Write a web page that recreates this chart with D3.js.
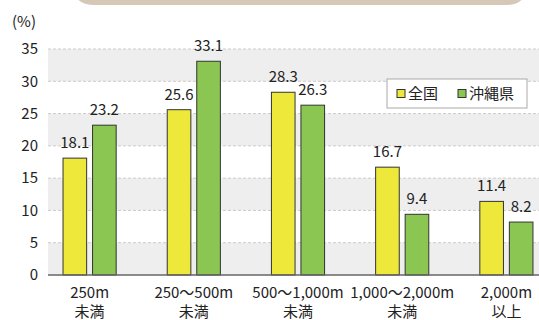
<!DOCTYPE html>
<html><head><meta charset="utf-8">
<script src="https://cdn.jsdelivr.net/npm/d3@7"></script>
<style>
html,body{margin:0;padding:0;background:#fff;}
svg{display:block;font-family:"Noto Sans CJK JP","Noto Sans",sans-serif;}
</style></head>
<body>
<svg id="c" width="539" height="320"></svg>
<script>
const categories = [["250m","未満"],["250〜500m","未満"],["500〜1,000m","未満"],["1,000〜2,000m","未満"],["2,000m","以上"]];
const seriesNames = ["全国","沖縄県"];
const national = [18.1, 25.6, 28.3, 16.7, 11.4];
const okinawa = [23.2, 33.1, 26.3, 9.4, 8.2];
const yTicks = [0,5,10,15,20,25,30,35];
const colors = ["#ede83a","#8bc653"];

const svg = d3.select("#c");
const plotLeft = 48, plotRight = 539, plotTop = 49, plotBottom = 275;
const FS = 15;

// decorative header shape
svg.append("path")
  .attr("d", "M75,-10 L525,-10 Q525,5 505,5 L95,5 Q75,5 75,-10 Z")
  .attr("fill", "#d6c8b6");

const y = d3.scaleLinear().domain([0,35]).range([plotBottom, plotTop]);
const idx = categories.map((d,i)=>i);
const x = d3.scaleBand().domain(idx).range([37.5, 558.5]).paddingInner(0.49).paddingOuter(0.245);
const xs = d3.scaleBand().domain([0,1]).range([0, x.bandwidth()]).paddingInner(0.2).paddingOuter(0);

// bands
const bands = [[0,5],[10,15],[20,25],[30,35]];
svg.append("g").selectAll("rect").data(bands).join("rect")
  .attr("x", plotLeft).attr("width", plotRight-plotLeft)
  .attr("y", d=>y(d[1])).attr("height", d=>y(d[0])-y(d[1]))
  .attr("fill", "#eeeeee");

// grid
svg.append("g").selectAll("line").data(yTicks.filter(t=>t>0)).join("line")
  .attr("x1", plotLeft).attr("x2", plotRight)
  .attr("y1", d=>y(d)).attr("y2", d=>y(d))
  .attr("stroke", "#cccccc").attr("stroke-width", 1).attr("stroke-dasharray","3,2");

// y axis
const yAxis = d3.axisLeft(y).tickValues(yTicks).tickSize(0).tickPadding(10);
const ya = svg.append("g").attr("transform", `translate(${plotLeft},0)`).call(yAxis);
ya.select(".domain").remove();
ya.selectAll("text").attr("font-size", FS).attr("fill", "#222").attr("font-family", '"Noto Sans CJK JP","Noto Sans",sans-serif');

svg.append("text").attr("x", 12).attr("y", 27).attr("font-size", FS).attr("fill","#222").text("(%)");

// bars
const data = [national, okinawa];
const g = svg.append("g");
data.forEach((vals, s) => {
  g.selectAll(null).data(vals).join("rect")
    .attr("x", (d,i)=>x(i)+xs(s))
    .attr("width", xs.bandwidth())
    .attr("y", d=>y(d))
    .attr("height", d=>y(0)-y(d))
    .attr("fill", colors[s]).attr("stroke", "#333").attr("stroke-width", 1);
  g.selectAll(null).data(vals).join("text")
    .attr("x", (d,i)=>x(i)+xs(s)+xs.bandwidth()/2)
    .attr("y", d=>y(d)-10)
    .attr("text-anchor","middle").attr("font-size", FS).attr("fill","#222")
    .text(d=>d.toFixed(1));
});

// baseline
svg.append("line").attr("x1", plotLeft).attr("x2", plotRight).attr("y1", y(0)).attr("y2", y(0))
  .attr("stroke", "#666").attr("stroke-width", 1.5);

// x labels
const xl = svg.append("g");
categories.forEach((c,i)=>{
  const cx = x(i)+x.bandwidth()/2;
  c.forEach((line,j)=>{
    xl.append("text").attr("x", cx).attr("y", 298 + j*19)
      .attr("text-anchor","middle").attr("font-size", FS).attr("fill","#222").text(line);
  });
});

// legend
const lg = svg.append("g");
lg.append("rect").attr("x", 387).attr("y", 79).attr("width", 140).attr("height", 29)
  .attr("fill", "#fff").attr("stroke", "#aaa").attr("stroke-width", 1);
const lx = [397, 458];
seriesNames.forEach((n,i)=>{
  lg.append("rect").attr("x", lx[i]).attr("y", 89.5).attr("width", 8).attr("height", 8)
    .attr("fill", colors[i]).attr("stroke", "#333").attr("stroke-width", 1);
  lg.append("text").attr("x", lx[i]+11).attr("y", 99).attr("font-size", FS).attr("fill","#222").text(n);
});
</script>
</body></html>
